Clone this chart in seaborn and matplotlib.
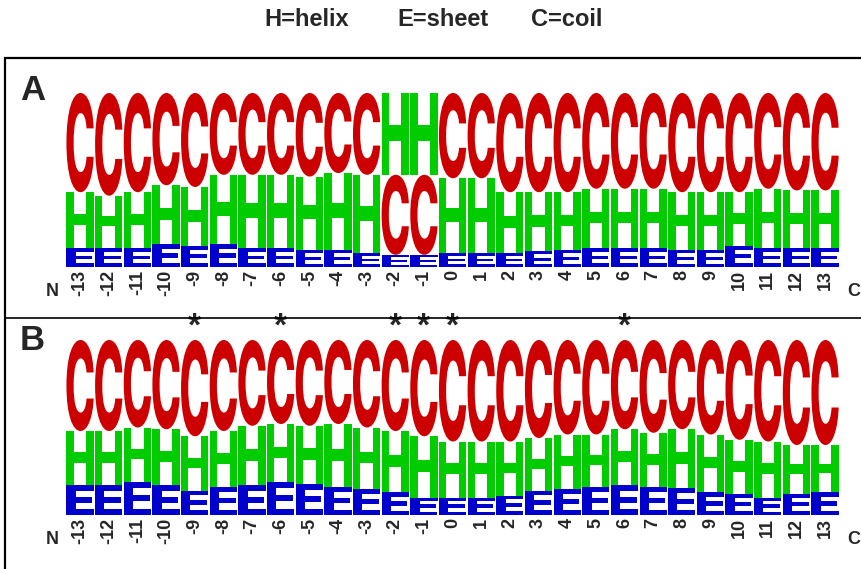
import numpy as np
import seaborn as sns
import matplotlib
matplotlib.use("Agg")
import matplotlib.pyplot as plt
from matplotlib.textpath import TextPath
from matplotlib.patches import PathPatch, Rectangle
from matplotlib.font_manager import FontProperties
from matplotlib.transforms import Affine2D

# positions along the segment (N -> C)
positions = list(range(-13, 14))

# panel A: letter frequencies per position
coil_a = [.57, .59, .57, .53, .54, .47, .47, .47, .48, .46, .47, .46, .46,
          .49, .49, .57, .57, .57, .55, .55, .55, .57, .57, .57, .55, .56, .56]
helix_a = [.32, .30, .32, .34, .34, .40, .42, .42, .42, .44, .45, .47, .47,
           .43, .43, .35, .34, .33, .34, .34, .34, .33, .33, .31, .34, .33, .33]
sheet_a = [.11, .11, .11, .13, .12, .13, .11, .11, .10, .10, .08, .07, .07,
           .08, .08, .08, .09, .10, .11, .11, .11, .10, .10, .12, .11, .11, .11]

# panel B: letter frequencies per position
coil_b = [.52, .52, .50, .51, .55, .52, .49, .48, .49, .48, .50, .52, .55,
          .58, .58, .58, .56, .54, .54, .51, .53, .51, .54, .57, .58, .60, .60]
helix_b = [.31, .31, .31, .32, .31, .32, .34, .33, .33, .36, .35, .35, .35,
           .32, .32, .31, .30, .31, .30, .32, .31, .335, .33, .31, .32, .28, .27]
sheet_b = [.17, .17, .19, .17, .14, .16, .17, .19, .18, .16, .15, .13, .10,
           .10, .10, .11, .14, .15, .16, .17, .16, .155, .13, .12, .10, .12, .13]

starred = [-9, -6, -2, -1, 0, 6]

colors = {"C": "#cc0000", "H": "#00cc00", "E": "#0000cc"}

sns.set_theme(style="white")
plt.rcParams["font.family"] = ["Liberation Sans", "DejaVu Sans"]
fp = FontProperties(family="Inter", weight=800)


def draw_letter(ax, letter, x, y, w, h, color):
    path = TextPath((0, 0), letter, size=1, prop=fp)
    bb = path.get_extents()
    tr = (Affine2D().translate(-bb.x0, -bb.y0)
          .scale(w / bb.width, h / bb.height)
          .translate(x - w / 2, y))
    ax.add_patch(PathPatch(tr.transform_path(path), facecolor=color,
                           edgecolor="none"))


def draw_logo(ax, coil, helix, sheet):
    for i, pos in enumerate(positions):
        stack = sorted([("C", coil[i]), ("H", helix[i]), ("E", sheet[i])],
                       key=lambda t: t[1])
        base = 0
        for letter, h in stack:
            draw_letter(ax, letter, pos, base, 0.95, h, colors[letter])
            base += h
    ax.set_xlim(-14, 14)
    ax.set_ylim(0, 1)
    ax.set_xticks(positions)
    ax.set_xticklabels([str(p) for p in positions], rotation=90,
                       fontsize=13, fontweight="bold", va="top")
    ax.tick_params(axis="x", length=0, pad=2)
    ax.set_yticks([])
    sns.despine(ax=ax, left=True, bottom=True)
    ax.patch.set_alpha(0)


fig = plt.figure(figsize=(8.61, 5.69), dpi=100)
W, H = 861, 569

x_left = 51.4 / W
x_width = 802.3 / W
ax_a = fig.add_axes([x_left, (H - 267) / H, x_width, 174 / H])
ax_b = fig.add_axes([x_left, (H - 515) / H, x_width, 175 / H])
draw_logo(ax_a, coil_a, helix_a, sheet_a)
draw_logo(ax_b, coil_b, helix_b, sheet_b)

# frame and divider
fig.add_artist(Rectangle((5 / W, -0.1), 1.2, (H - 58) / H + 0.1,
                         transform=fig.transFigure, fill=False,
                         lw=1.6, edgecolor="black"))
fig.add_artist(plt.Line2D([5 / W, 1.1], [(H - 318) / H] * 2,
                          transform=fig.transFigure, lw=1.2, color="black"))

# legend texts
for label, xc in [("H=helix", 307), ("E=sheet", 443), ("C=coil", 567)]:
    fig.text(xc / W, (H - 20) / H, label, ha="center", va="center",
             fontsize=17, fontweight="bold")

# panel letters and termini
fig.text(20 / W, (H - 90) / H, "A", fontsize=25, fontweight="bold", va="center")
fig.text(20 / W, (H - 340) / H, "B", fontsize=25, fontweight="bold", va="center")
for yc in [292, 540]:
    fig.text(52 / W, (H - yc) / H, "N", fontsize=13, fontweight="bold",
             ha="center", va="center")
    fig.text(854 / W, (H - yc + 1) / H, "C", fontsize=13, fontweight="bold",
             ha="center", va="center")

# significance markers
for pos in starred:
    ax_b.text(pos, 1.025, "*", fontsize=24, fontweight="bold", ha="center",
              va="baseline", clip_on=False)

fig.savefig("out.png", dpi=100)
